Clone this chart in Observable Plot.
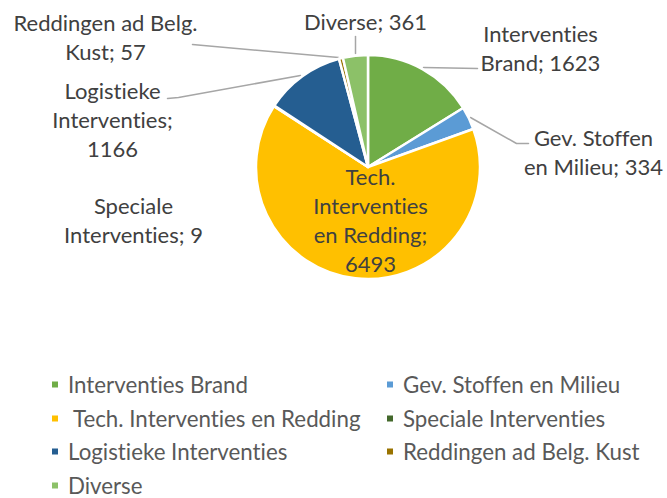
<!DOCTYPE html>
<html>
<head>
<meta charset="utf-8">
<script src="https://cdn.jsdelivr.net/npm/d3@7"></script>
<script src="https://cdn.jsdelivr.net/npm/@observablehq/plot@0.6"></script>
<style>
  html, body { margin: 0; padding: 0; background: #fff; }
  #wrap { position: relative; width: 667px; height: 498px; overflow: hidden; }
  #legend { position: absolute; left: 0; top: 0; width: 667px; height: 498px; pointer-events: none; }
  .li { position: absolute; display: flex; align-items: center; font-family: Lato, sans-serif; font-size: 22.3px; color: #595959; white-space: pre; transform: translateY(-50%); font-variant-ligatures: none; font-feature-settings: "liga" 0, "clig" 0; }
  .sw { width: 6px; height: 6px; margin-right: 10px; }
  svg text { font-variant-ligatures: none; font-feature-settings: "liga" 0, "clig" 0; }
</style>
</head>
<body>
<div id="wrap"><div id="chart"></div><div id="legend"></div></div>
<script>
// ---- data ----
const categories = ["Interventies Brand", "Gev. Stoffen en Milieu", "Tech. Interventies en Redding", "Speciale Interventies", "Logistieke Interventies", "Reddingen ad Belg. Kust", "Diverse"];
const values = [1623, 334, 6493, 9, 1166, 57, 361];
const colors = ["#70AD47", "#5B9BD5", "#FFC000", "#43682B", "#255E91", "#997300", "#8CC168"];
const labelLines = [
  ["Interventies", "Brand; 1623"],
  ["Gev. Stoffen", "en Milieu; 334"],
  ["Tech.", "Interventies", "en Redding;", "6493"],
  ["Speciale", "Interventies; 9"],
  ["Logistieke", "Interventies;", "1166"],
  ["Reddingen ad Belg.", "Kust; 57"],
  ["Diverse; 361"]
];

// ---- layout (positions only) ----
const W = 667, H = 372;
const pieCenter = {x: 368, y: 167}, pieRadius = 112;
const labelPos = [
  {x: 540, y: 47}, {x: 593, y: 151}, {x: 370, y: 219}, {x: 133, y: 219},
  {x: 112, y: 118}, {x: 105, y: 36}, {x: 365, y: 20}
];
const leaders = [
  [[423, 67], [477, 68]],
  [[470, 117], [516, 143], [528, 143]],
  null,
  null,
  [[300, 75], [178, 97], [167, 98]],
  [[338, 57], [192, 44]],
  [[355, 53], [355, 36]]
];

const data = categories.map((c, i) => ({category: c, value: values[i], color: colors[i], label: labelLines[i].join("\n"), ...labelPos[i]}));
const arcs = d3.pie().sort(null).value(d => d.value).startAngle(0).endAngle(2 * Math.PI)(data);

const leaderData = [];
leaders.forEach((pts, i) => { if (pts) pts.forEach(([x, y]) => leaderData.push({k: i, x, y})); });

function pieMark(index, scales) {
  const g = d3.create("svg:g");
  const cx = scales.x(pieCenter.x), cy = scales.y(pieCenter.y);
  const arc = d3.arc().innerRadius(0).outerRadius(pieRadius);
  g.attr("transform", `translate(${cx},${cy})`)
    .selectAll("path").data(arcs).join("path")
    .attr("d", arc)
    .attr("fill", d => d.data.color)
    .attr("stroke", "#fff")
    .attr("stroke-width", 2.5)
    .attr("stroke-linejoin", "round");
  return g.node();
}

const chart = Plot.plot({
  width: W, height: H,
  margin: 0,
  x: {domain: [0, W], range: [0, W], axis: null},
  y: {domain: [0, H], range: [0, H], axis: null},
  style: {fontFamily: "Lato, sans-serif", background: "#fff"},
  marks: [
    Plot.line(leaderData, {x: "x", y: "y", z: "k", stroke: "#A6A6A6", strokeWidth: 1.5}),
    pieMark,
    Plot.text(data, {x: "x", y: "y", text: "label", fill: "#404040", fontSize: 22, lineHeight: 1.32, lineAnchor: "middle", textAnchor: "middle"})
  ]
});
document.getElementById("chart").appendChild(chart);

// ---- legend ----
const legendPos = [
  {x: 52, y: 384}, {x: 387, y: 384}, {x: 52, y: 418}, {x: 387, y: 418},
  {x: 52, y: 451}, {x: 387, y: 451}, {x: 52, y: 485}
];
const leg = document.getElementById("legend");
categories.forEach((c, i) => {
  const d = document.createElement("div");
  d.className = "li";
  d.style.left = legendPos[i].x + "px";
  d.style.top = legendPos[i].y + "px";
  const s = document.createElement("span");
  s.className = "sw"; s.style.background = colors[i];
  if (i === 2) s.style.marginRight = "15px";
  d.appendChild(s);
  d.appendChild(document.createTextNode(c));
  leg.appendChild(d);
});
</script>
</body>
</html>
